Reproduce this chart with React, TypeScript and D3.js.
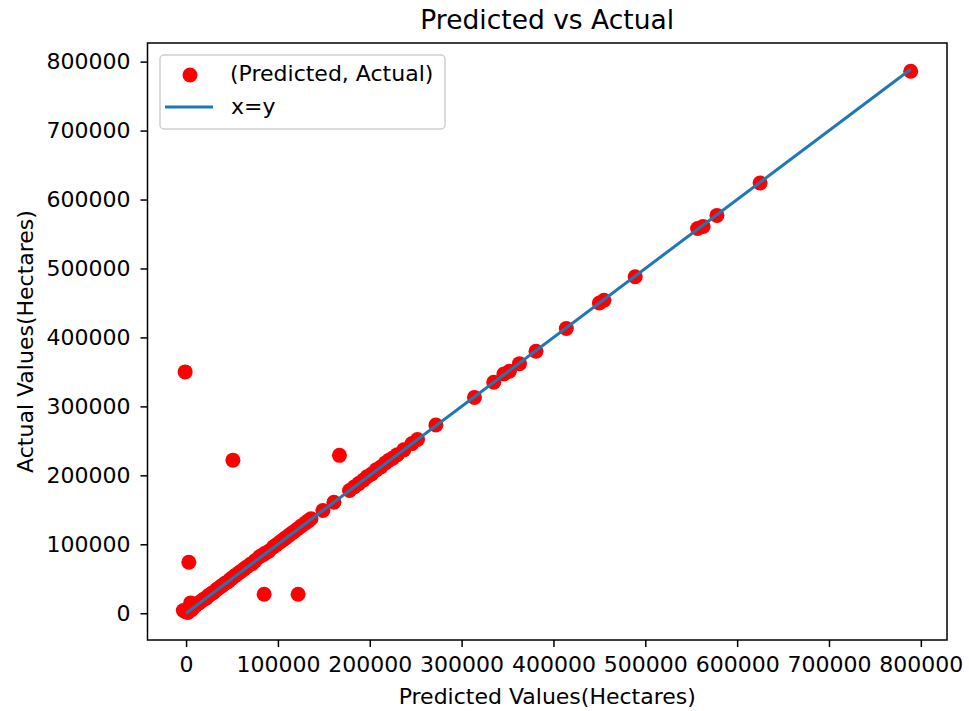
import React, { useRef, useEffect } from "react";
import * as d3 from "d3";

// predicted (x) and actual (y) values
const predicted = [
  -3000, 0, 2000, 5000, 3000, 6000, 8000, 10000, 12000, 14000, 16000, 18000,
  20000, 22000, 24000, 26000, 28000, 30000, 33000, 35000, 38000, 40000, 43000,
  46000, 48000, 50000, 53000, 55000, 58000, 60000, 63000, 66000, 70000, 72000,
  75000, 80000, 84000, 86000, 90000, 95000, 98000, 102000, 105000, 108000,
  112000, 115000, 118000, 122000, 126000, 130000, 133000, 136000, 149000,
  161000, 178000, 183000, 188000, 193000, 197000, 202000, 207000, 212000,
  217000, 221000, 225000, 230000, 237000, 246000, 252000, 272000, 314000,
  335000, 346000, 352000, 363000, 381000, 414000, 450000, 455000, 489000,
  557000, 563000, 578000, 625000, 789000,
  // outliers
  -1000, 51000, 3000, 85000, 122000, 167000,
];

const actual = [
  4000, 2000, 1000, 15000, 6000, 5000, 9000, 11000, 13000, 15000, 17000, 19000,
  21000, 22000, 25000, 27000, 29000, 30000, 34000, 36000, 39000, 41000, 44000,
  46000, 49000, 51000, 54000, 56000, 59000, 61000, 64000, 67000, 71000, 72000,
  76000, 82000, 85000, 87000, 90000, 96000, 99000, 103000, 106000, 109000,
  113000, 116000, 119000, 123000, 127000, 131000, 134000, 137000, 149000,
  161000, 178000, 183000, 188000, 193000, 198000, 202000, 208000, 212000,
  218000, 222000, 225000, 230000, 237000, 246000, 252000, 273000, 313000,
  335000, 347000, 351000, 362000, 380000, 413000, 450000, 454000, 488000,
  558000, 561000, 577000, 624000, 786000,
  350000, 222000, 74000, 27500, 27500, 229000,
];

const identityLine = [0, 789000];
const tickValues = [0, 100000, 200000, 300000, 400000, 500000, 600000, 700000, 800000];

const WIDTH = 969;
const HEIGHT = 711;
const FONT = "DejaVu Sans, sans-serif";

const App = () => {
  const svgRef = useRef(null);

  useEffect(() => {
    const svg = d3.select(svgRef.current);
    svg.selectAll("*").remove();

    const margin = { top: 43, right: 22, bottom: 71, left: 147.5 };

    const x = d3
      .scaleLinear()
      .domain([-42000, 828500])
      .range([margin.left, WIDTH - margin.right]);

    const y = d3
      .scaleLinear()
      .domain([-38800, 827000])
      .range([HEIGHT - margin.bottom, margin.top]);

    const points = predicted.map((p, i) => ({ p, a: actual[i] }));

    svg
      .append("rect")
      .attr("width", WIDTH)
      .attr("height", HEIGHT)
      .attr("fill", "white");

    // scatter
    svg
      .append("g")
      .selectAll("circle")
      .data(points)
      .join("circle")
      .attr("cx", (d) => x(d.p))
      .attr("cy", (d) => y(d.a))
      .attr("r", 7.5)
      .attr("fill", "red");

    // x = y line
    svg
      .append("path")
      .datum(identityLine)
      .attr("fill", "none")
      .attr("stroke", "#1f77b4")
      .attr("stroke-width", 3)
      .attr(
        "d",
        d3
          .line()
          .x((d) => x(d))
          .y((d) => y(d))
      );

    const fmt = d3.format("d");

    const xAxis = svg
      .append("g")
      .attr("transform", `translate(0,${HEIGHT - margin.bottom})`)
      .call(
        d3
          .axisBottom(x)
          .tickValues(tickValues)
          .tickFormat(fmt)
          .tickSize(7)
          .tickPadding(9)
          .tickSizeOuter(0)
      );

    const yAxis = svg
      .append("g")
      .attr("transform", `translate(${margin.left},0)`)
      .call(
        d3
          .axisLeft(y)
          .tickValues(tickValues)
          .tickFormat(fmt)
          .tickSize(7)
          .tickPadding(10)
          .tickSizeOuter(0)
      );

    [xAxis, yAxis].forEach((g) => {
      g.select(".domain").remove();
      g.selectAll("line").attr("stroke", "black").attr("stroke-width", 1.5);
      g.selectAll("text")
        .attr("fill", "black")
        .style("font-family", FONT)
        .style("font-size", "22px");
    });

    // frame
    svg
      .append("rect")
      .attr("x", margin.left)
      .attr("y", margin.top)
      .attr("width", WIDTH - margin.right - margin.left)
      .attr("height", HEIGHT - margin.bottom - margin.top)
      .attr("fill", "none")
      .attr("stroke", "black")
      .attr("stroke-width", 1.5);

    // legend
    const legend = svg.append("g");
    legend
      .append("rect")
      .attr("x", 160)
      .attr("y", 55)
      .attr("width", 285)
      .attr("height", 74)
      .attr("rx", 4)
      .attr("fill", "white")
      .attr("fill-opacity", 0.8)
      .attr("stroke", "#d0d0d0")
      .attr("stroke-width", 1.5);
    legend
      .append("circle")
      .attr("cx", 190)
      .attr("cy", 75)
      .attr("r", 7.5)
      .attr("fill", "red");
    legend
      .append("line")
      .attr("x1", 165)
      .attr("x2", 213)
      .attr("y1", 107)
      .attr("y2", 107)
      .attr("stroke", "#1f77b4")
      .attr("stroke-width", 3);
    legend
      .append("text")
      .attr("x", 230)
      .attr("y", 81)
      .style("font-family", FONT)
      .style("font-size", "22px")
      .text("(Predicted, Actual)");
    legend
      .append("text")
      .attr("x", 231)
      .attr("y", 114)
      .style("font-family", FONT)
      .style("font-size", "22px")
      .text("x=y");

    // title and axis labels
    svg
      .append("text")
      .attr("x", (margin.left + WIDTH - margin.right) / 2)
      .attr("y", 29)
      .attr("text-anchor", "middle")
      .style("font-family", FONT)
      .style("font-size", "26.5px")
      .text("Predicted vs Actual");

    svg
      .append("text")
      .attr("x", (margin.left + WIDTH - margin.right) / 2)
      .attr("y", 704)
      .attr("text-anchor", "middle")
      .style("font-family", FONT)
      .style("font-size", "22px")
      .text("Predicted Values(Hectares)");

    svg
      .append("text")
      .attr("text-anchor", "middle")
      .attr(
        "transform",
        `translate(33, ${(margin.top + HEIGHT - margin.bottom) / 2}) rotate(-90)`
      )
      .style("font-family", FONT)
      .style("font-size", "22px")
      .text("Actual Values(Hectares)");
  }, []);

  return (
    <svg
      ref={svgRef}
      width={WIDTH}
      height={HEIGHT}
      style={{ position: "absolute", left: 0, top: 0 }}
    />
  );
};

export default App;
